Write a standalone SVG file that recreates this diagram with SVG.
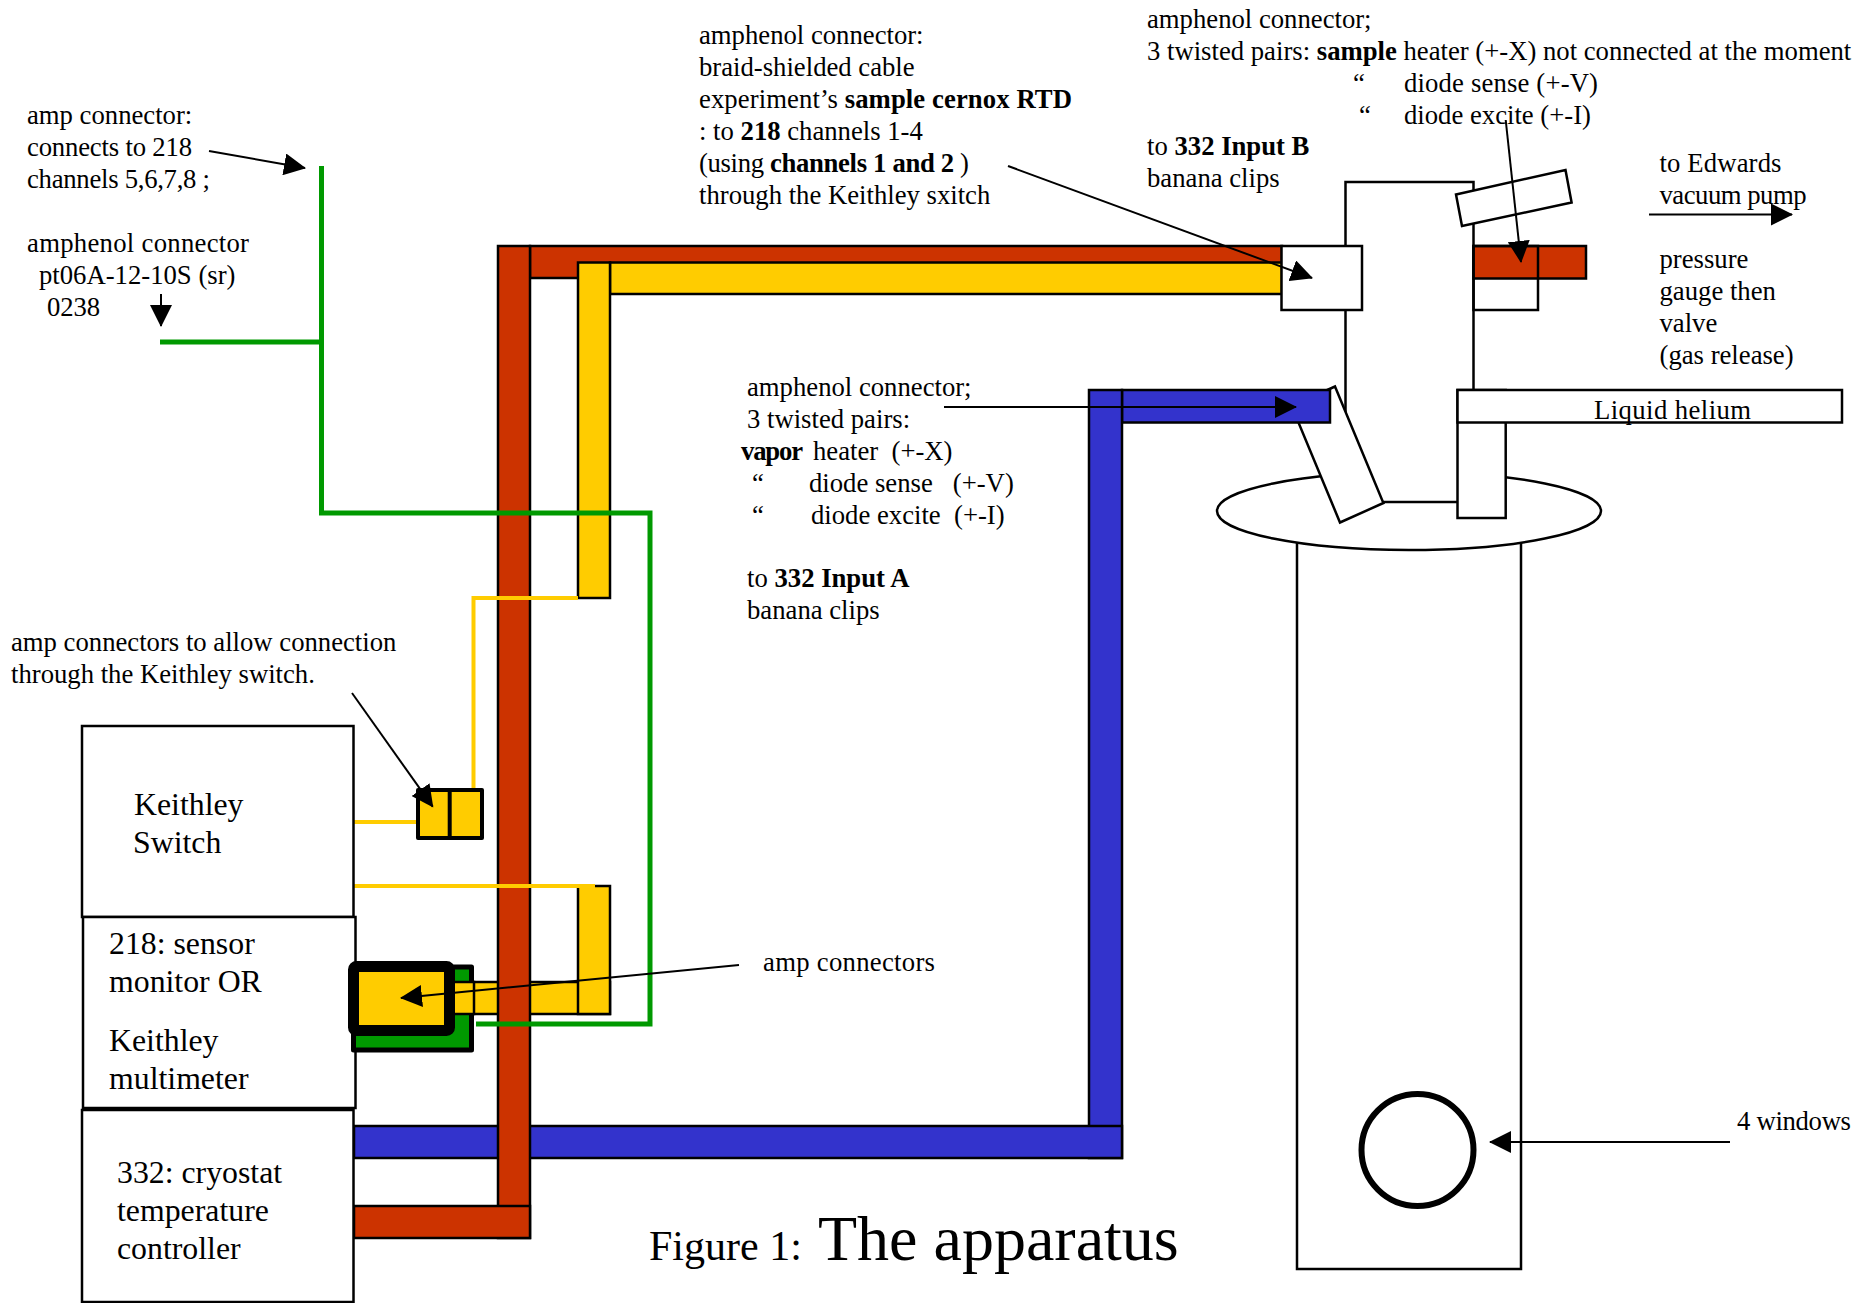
<svg xmlns="http://www.w3.org/2000/svg" width="1860" height="1303" viewBox="0 0 1860 1303">
<style>
text{font-family:"Liberation Serif","Times New Roman",serif;fill:#000;white-space:pre}
.s{font-size:26.700px}.m{font-size:31.800px}
.b{font-weight:bold}
.o{stroke:#000;stroke-width:2.5;fill:#fff}
.n{stroke:#000;stroke-width:2.5;fill:none}
.red{fill:#CC3300;stroke:#000;stroke-width:2.5}
.yel{fill:#FFCC00;stroke:#000;stroke-width:2.5}
.blu{fill:#3333CC;stroke:#000;stroke-width:2.5}
.gl{fill:none;stroke:#009900;stroke-width:5}
.yl{fill:none;stroke:#FFCC00;stroke-width:4}
.ar{stroke:#000;stroke-width:2;fill:none;marker-end:url(#a)}
</style>
<defs><marker id="a" markerUnits="userSpaceOnUse" markerWidth="23" markerHeight="22" refX="21" refY="11" orient="auto"><path d="M0 0L22 11L0 22Z" fill="#000"/></marker></defs>
<rect width="1860" height="1303" fill="#fff"/>
<g id="cryostat">
<rect class="o" x="1297" y="520" width="224" height="749"/>
<ellipse class="o" cx="1409" cy="511" rx="192" ry="39"/>
<rect class="o" x="1345.500" y="182" width="128" height="320"/>
<circle cx="1417.500" cy="1150" r="56" fill="#fff" stroke="#000" stroke-width="6"/>
</g>
<g id="ports">
<polygon class="o" points="1335,386.500 1383.400,503 1340,522.500 1291.600,406"/>
<rect class="o" x="1457.500" y="390" width="48.200" height="128"/>
</g>
<g id="connectors">
<rect class="blu" x="1122" y="390" width="208" height="32.500"/>
<rect class="blu" x="1089" y="390" width="33" height="768"/>
<rect class="blu" x="354" y="1126" width="768" height="32"/>
<rect class="red" x="530" y="246" width="752" height="32"/>
<rect class="yel" x="450" y="982" width="160" height="32"/>
<rect class="yel" x="610" y="262.500" width="672" height="31.500"/>
<rect class="yel" x="578" y="262.500" width="32" height="335.500"/>
<rect class="yel" x="578" y="886" width="32" height="128"/>
<rect class="red" x="498" y="246" width="32" height="992"/>
<rect class="red" x="354" y="1206" width="176" height="32"/>
<rect class="red" x="1473.500" y="246" width="112.500" height="32.500"/>
<rect class="n" x="1473.500" y="246" width="64.500" height="64"/>
<path class="yl" d="M473.500 789V598H578M354 822H417M352 886H595"/>
<path class="gl" d="M321.500 166V513H650V1024H476M160 342H321.500"/>
</g>
<g id="sample-port"><rect class="o" x="1281.500" y="246" width="80.500" height="64"/></g>
<g id="pump-port"><polygon class="o" points="1456,194.500 1565.500,170 1571.600,202.500 1462,226"/></g>
<g id="helium"><rect class="o" x="1457.500" y="390" width="384.500" height="32.500"/>
<text class="s" x="1594" y="419" textLength="157">Liquid helium</text></g>
<g id="keithley-switch"><rect class="o" x="82" y="726" width="271.500" height="191"/>
<text class="m" x="134" y="815">Keithley</text><text class="m" x="133" y="853">Switch</text></g>
<g id="monitor"><rect class="o" x="83" y="917" width="272.500" height="191"/>
<text class="m" x="109" y="954">218: sensor</text><text class="m" x="109" y="992">monitor OR</text><text class="m" x="109" y="1051">Keithley</text><text class="m" x="109" y="1089">multimeter</text></g>
<g id="controller"><rect class="o" x="82" y="1110" width="271.500" height="192"/>
<text class="m" x="117" y="1183">332: cryostat</text><text class="m" x="117" y="1221">temperature</text><text class="m" x="117" y="1259">controller</text></g>
<g id="amp-small"><rect x="418" y="790" width="64" height="48" fill="#FFCC00" stroke="#000" stroke-width="4" stroke-linejoin="round"/><path d="M449.700 790V838" stroke="#000" stroke-width="4"/></g>
<g id="amp-large">
<rect x="353.500" y="967" width="118" height="83" fill="#009900" stroke="#000" stroke-width="5" stroke-linejoin="round"/>
<rect x="450" y="982" width="24" height="32" fill="#FFCC00" stroke="#000" stroke-width="2.500"/>
<rect x="353.500" y="966.500" width="96" height="64" rx="3" fill="#FFCC00" stroke="#000" stroke-width="11" stroke-linejoin="round"/>
</g>
<g id="arrows">
<path class="ar" d="M209 151L305 168"/>
<path class="ar" d="M161 294V326"/>
<path class="ar" d="M1008 166L1312 278"/>
<path class="ar" d="M1505.700 120L1521 262"/>
<path class="ar" d="M1649 214.500H1792"/>
<path class="ar" d="M944 407H1296"/>
<path class="ar" d="M352 693L432.700 806.700"/>
<path class="ar" d="M739 965L401 998"/>
<path class="ar" d="M1730 1142H1490"/>
</g>
<g id="labels">
<text class="s" x="27" y="123.500">amp connector:</text>
<text class="s" x="27" y="155.500" textLength="165">connects to 218</text>
<text class="s" x="27" y="187.500" textLength="183">channels 5,6,7,8 ;</text>
<text class="s" x="27" y="251.500" textLength="222">amphenol connector</text>
<text class="s" x="39" y="283.500">pt06A-12-10S (sr)</text>
<text class="s" x="47" y="315.500" textLength="53">0238</text>
<text class="s" x="699" y="44">amphenol connector:</text>
<text class="s" x="699" y="76">braid-shielded cable</text>
<text class="s" x="699" y="108" textLength="373">experiment’s <tspan class="b">sample cernox RTD</tspan></text>
<text class="s" x="699" y="140">: to <tspan class="b">218</tspan> channels 1-4</text>
<text class="s" x="699" y="172" textLength="270">(using <tspan class="b">channels 1 and 2</tspan> )</text>
<text class="s" x="699" y="204">through the Keithley sxitch</text>
<text class="s" x="1147" y="27.500">amphenol connector;</text>
<text class="s" x="1147" y="59.500">3 twisted pairs: <tspan class="b">sample</tspan> heater (+-X) not connected at the moment</text>
<text class="s" x="1353" y="91.500">“</text><text class="s" x="1404" y="91.500" textLength="194">diode sense (+-V)</text>
<text class="s" x="1359" y="123.500">“</text><text class="s" x="1404" y="123.500">diode excite (+-I)</text>
<text class="s" x="1147" y="155">to <tspan class="b">332 Input B</tspan></text>
<text class="s" x="1147" y="187">banana clips</text>
<text class="s" x="1659.500" y="172" textLength="122">to Edwards</text>
<text class="s" x="1659.500" y="204" textLength="147">vacuum pump</text>
<text class="s" x="1659.500" y="268">pressure</text>
<text class="s" x="1659.500" y="300">gauge then</text>
<text class="s" x="1659.500" y="332">valve</text>
<text class="s" x="1659.500" y="364">(gas release)</text>
<text class="s" x="747" y="395.500">amphenol connector;</text>
<text class="s" x="747" y="427.500">3 twisted pairs:</text>
<text class="s b" x="741" y="459.500" textLength="62">vapor</text><text class="s" x="813" y="459.500">heater  (+-X)</text>
<text class="s" x="752" y="491.500">“</text><text class="s" x="809" y="491.500">diode sense   (+-V)</text>
<text class="s" x="752" y="523.500">“</text><text class="s" x="811" y="523.500">diode excite  (+-I)</text>
<text class="s" x="747" y="587">to <tspan class="b">332 Input A</tspan></text>
<text class="s" x="747" y="619">banana clips</text>
<text class="s" x="11" y="651">amp connectors to allow connection</text>
<text class="s" x="11" y="683">through the Keithley switch.</text>
<text class="s" x="763" y="971" textLength="172">amp connectors</text>
<text class="s" x="1737" y="1130" textLength="114">4 windows</text>
<text x="649" y="1260" font-size="42">Figure 1:</text>
<text x="818" y="1260" font-size="64">The apparatus</text>
</g>
</svg>
